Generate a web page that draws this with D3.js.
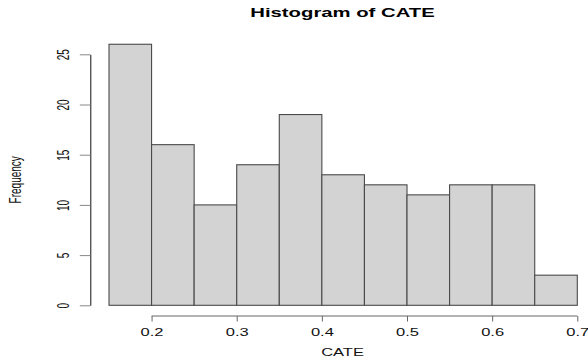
<!DOCTYPE html>
<html>
<head>
<meta charset="utf-8">
<script src="https://cdn.jsdelivr.net/npm/d3@7"></script>
<style>
  html, body { margin: 0; padding: 0; background: #fff; }
  svg { display: block; font-family: "Liberation Sans", Arial, sans-serif; }
</style>
</head>
<body>
<div id="plot"></div>
<script>
// histogram bins (left edges) and counts
const binStarts = [0.15, 0.2, 0.25, 0.3, 0.35, 0.4, 0.45, 0.5, 0.55, 0.6, 0.65];
const binWidth = 0.05;
const counts = [26, 16, 10, 14, 19, 13, 12, 11, 12, 12, 3];
const xTicks = [0.2, 0.3, 0.4, 0.5, 0.6, 0.7];
const yTicks = [0, 5, 10, 15, 20, 25];

const width = 588;
const height = 358;
// the original picture is stretched sideways, so text is too
const stretch = 1.65;

const svg = d3.select('#plot')
  .append('svg')
  .attr('width', width)
  .attr('height', height);

const x = d3.scaleLinear()
  .domain([0.15, 0.7])
  .range([109, 577.3]);

const y = d3.scaleLinear()
  .domain([0, 25])
  .range([305.3, 54.3]);

// bars
svg.append('g')
  .selectAll('rect')
  .data(binStarts)
  .enter()
  .append('rect')
  .attr('x', d => x(d))
  .attr('y', (d, i) => y(counts[i]))
  .attr('width', d => x(d + binWidth) - x(d))
  .attr('height', (d, i) => y(0) - y(counts[i]))
  .attr('fill', '#d3d3d3')
  .attr('stroke', '#4a4a4a')
  .attr('stroke-width', 1.1);

// x axis, line only runs between the first and last tick (like R)
const xAxis = svg.append('g')
  .attr('transform', 'translate(0,316)')
  .call(d3.axisBottom(x).tickValues(xTicks).tickSize(5.5).tickSizeOuter(0).tickFormat(d3.format('.1f')));
xAxis.select('.domain')
  .attr('d', `M${x(xTicks[0])},0H${x(xTicks[xTicks.length - 1])}`)
  .attr('stroke', '#666');
xAxis.selectAll('.tick line').attr('stroke', '#666');
xAxis.selectAll('.tick text')
  .attr('y', 0)
  .attr('dy', 0)
  .attr('font-size', 10)
  .attr('fill', '#111')
  .attr('font-family', '"Liberation Sans", Arial, sans-serif')
  .attr('transform', `translate(0,20.2) scale(${stretch},1)`);

// y axis
const yAxis = svg.append('g')
  .attr('transform', 'translate(90.3,0)')
  .call(d3.axisLeft(y).tickValues(yTicks).tickSize(10.5).tickSizeOuter(0));
yAxis.select('.domain').attr('stroke', '#111');
yAxis.selectAll('.tick line').attr('stroke', '#888');
yAxis.selectAll('.tick text')
  .attr('x', 0)
  .attr('dy', 0)
  .attr('font-size', 10)
  .attr('fill', '#111')
  .attr('text-anchor', 'middle')
  .attr('font-family', '"Liberation Sans", Arial, sans-serif')
  .attr('transform', `translate(-27.5,0) scale(${stretch},1) rotate(-90) translate(0,3.6)`);

// title
svg.append('text')
  .attr('text-anchor', 'middle')
  .attr('font-size', 12.3)
  .attr('font-weight', 'bold')
  .attr('fill', '#000')
  .attr('transform', `translate(342.5,16.5) scale(${stretch},1)`)
  .text('Histogram of CATE');

// x label
svg.append('text')
  .attr('text-anchor', 'middle')
  .attr('font-size', 10)
  .attr('fill', '#111')
  .attr('transform', `translate(342.5,356.3) scale(${stretch},1)`)
  .text('CATE');

// y label
svg.append('text')
  .attr('text-anchor', 'middle')
  .attr('font-size', 10)
  .attr('fill', '#111')
  .attr('transform', `translate(15.5,179.8) scale(${stretch},1) rotate(-90) translate(0,3.3)`)
  .text('Frequency');
</script>
</body>
</html>
